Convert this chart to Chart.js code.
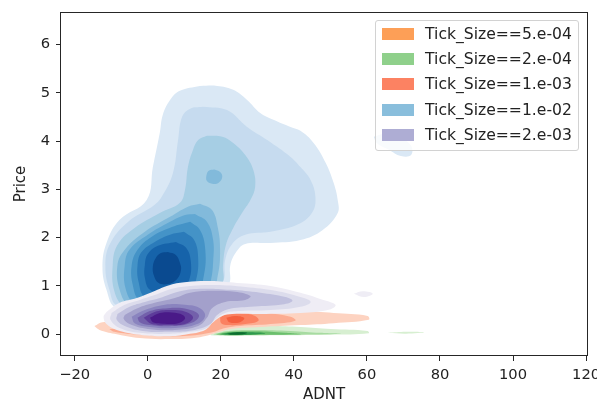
<!DOCTYPE html>
<html lang="en">
<head>
  <meta charset="UTF-8">
  <title>ADNT vs Price</title>
  <script src="https://cdn.jsdelivr.net/npm/chart.js"></script>
  <style>
    body { margin: 0; background: #fff; }
    .wrap { position: relative; width: 597px; height: 405px; font-family: "DejaVu Sans", sans-serif; color: #222; }
    .legend { position: absolute; left: 375px; top: 20px; width: 202px; height: 129px;
      border: 1px solid #d2d2d2; border-radius: 3px; background: rgba(255, 255, 255, 0.8); }
    .legend .patch { position: absolute; left: 6px; width: 32px; height: 12px; }
    .legend .label { position: absolute; left: 49px; font-size: 15.6px; line-height: 16px; white-space: nowrap; }
  </style>
</head>
<body>
  <div class="wrap">
    <canvas id="kdeChart" width="597" height="405"></canvas>
    <div class="legend" id="legend"></div>
  </div>

  <script>
    // axis ticks
    const xTicks = [-20, 0, 20, 40, 60, 80, 100, 120];
    const yTicks = [0, 1, 2, 3, 4, 5, 6];

    const tickSizes = ['Tick_Size==5.e-04', 'Tick_Size==2.e-04', 'Tick_Size==1.e-03', 'Tick_Size==1.e-02', 'Tick_Size==2.e-03'];
    const legendColors = ['#fd9f57', '#8fd08b', '#fc8262', '#89bedc', '#aeadd4'];

    // density contour rings, [ADNT, Price] per vertex, outermost level first

    // Tick_Size==2.e-04
    const greenRings = [
      [[17.1,0.00],[20.4,0.09],[23.9,0.16],[33.6,0.17],[41.8,0.15],[50.1,0.11],[60.2,0.07],[60.5,0.02],[50.1,-0.01],[36.3,-0.02],[22.6,-0.02],[17.3,-0.02]],
      [[65.7,0.03],[70.7,0.05],[75.7,0.04],[70.7,0.01]],
      [[17.9,0.00],[22.0,0.07],[29.4,0.09],[39.1,0.07],[47.3,0.03],[52.8,0.01],[41.8,-0.01],[28.1,-0.02],[19.8,-0.02]],
      [[18.7,0.00],[22.6,0.05],[29.4,0.06],[37.7,0.03],[41.8,0.00],[30.8,-0.01],[21.2,-0.02]],
      [[19.8,0.00],[23.4,0.04],[28.1,0.04],[32.2,0.02],[28.1,-0.01],[22.0,-0.01]],
      [[21.7,0.01],[24.5,0.04],[27.2,0.03],[26.1,0.00],[22.6,-0.01]]
    ];
    const greenLevels = [0, 0, 1, 2, 3, 4];

    // Tick_Size==1.e-03
    const redRings = [
      [[-14.6,0.17],[-12.4,0.25],[0.6,0.30],[17.6,0.34],[19.8,0.46],[23.9,0.50],[33.6,0.50],[41.8,0.48],[50.9,0.44],[60.2,0.38],[60.5,0.30],[50.9,0.23],[41.8,0.19],[30.8,0.15],[22.6,0.11],[19.8,0.05],[14.3,-0.06],[6.1,-0.10],[-2.2,-0.08],[-9.1,0.01],[-13.2,0.09]],
      [[-10.5,0.11],[0.6,0.15],[14.3,0.15],[17.9,0.25],[19.8,0.42],[23.9,0.46],[32.2,0.44],[39.1,0.36],[40.4,0.28],[33.6,0.21],[25.3,0.17],[21.2,0.13],[17.1,0.03],[8.8,-0.04],[-2.2,-0.01],[-9.1,0.05]],
      [[19.8,0.34],[21.5,0.43],[25.3,0.44],[29.4,0.38],[30.3,0.28],[26.7,0.21],[22.0,0.19],[20.1,0.23]],
      [[21.5,0.34],[23.7,0.38],[26.4,0.34],[25.3,0.25],[22.3,0.25]]
    ];
    const redLevels = [0, 1, 2, 3];

    // Tick_Size==1.e-02
    const blueRings = [
      [[14.3,5.14],[19.0,5.14],[23.4,5.06],[27.2,4.85],[30.8,4.58],[34.4,4.44],[39.1,4.29],[41.8,4.21],[45.4,3.96],[48.7,3.55],[50.9,3.13],[52.0,2.78],[52.0,2.51],[47.9,2.16],[41.8,1.95],[33.6,1.89],[26.7,1.87],[24.2,1.70],[22.6,1.43],[22.0,1.02],[14.3,0.70],[3.3,0.62],[-8.6,0.55],[-11.3,0.92],[-12.4,1.39],[-11.3,1.89],[-7.7,2.37],[-0.3,2.78],[1.4,3.46],[3.3,4.17],[4.1,4.54],[6.1,4.85],[8.8,5.04]],
      [[61.9,4.09],[65.2,4.15],[69.3,4.06],[72.1,3.90],[72.1,3.71],[69.3,3.69],[66.0,3.82],[62.7,3.96]],
      [[15.1,4.71],[21.7,4.64],[27.2,4.29],[32.7,4.02],[39.1,3.67],[41.8,3.46],[44.6,3.19],[45.9,2.84],[45.1,2.53],[41.3,2.28],[33.6,2.12],[26.7,2.06],[23.1,1.87],[21.2,1.54],[20.4,1.06],[14.3,0.80],[3.3,0.70],[-8.3,0.60],[-10.5,0.92],[-11.6,1.39],[-10.5,1.85],[-5.5,2.32],[1.9,2.68],[4.1,2.88],[6.9,3.34],[8.3,4.02],[9.4,4.50],[11.6,4.67]],
      [[16.2,4.11],[20.4,4.09],[23.4,3.96],[26.7,3.71],[28.9,3.40],[29.4,3.05],[28.1,2.78],[25.8,2.51],[23.4,2.20],[21.4,1.85],[20.6,1.43],[20.4,1.06],[15.7,0.77],[4.7,0.61],[-6.3,0.59],[-9.1,0.88],[-9.6,1.43],[-8.3,1.85],[-3.6,2.20],[3.3,2.51],[8.8,2.72],[10.2,2.99],[11.0,3.46],[12.4,3.82],[13.8,4.02]],
      [[14.3,2.70],[17.6,2.57],[19.2,2.20],[19.8,1.75],[19.2,1.23],[17.1,0.81],[4.7,0.61],[-5.0,0.61],[-7.7,0.92],[-8.3,1.43],[-6.3,1.75],[-0.8,2.12],[6.1,2.43],[11.0,2.64]],
      [[18.2,3.41],[19.8,3.36],[20.4,3.26],[19.5,3.14],[17.9,3.11],[16.2,3.17],[16.1,3.30],[16.8,3.39]],
      [[12.9,2.49],[16.2,2.33],[17.9,1.95],[17.9,1.50],[17.3,1.12],[15.7,0.79],[4.7,0.61],[-3.6,0.65],[-6.1,0.96],[-6.3,1.43],[-5.0,1.75],[0.0,2.06],[6.1,2.33],[10.2,2.47]],
      [[11.6,2.33],[14.3,2.16],[15.7,1.79],[15.4,1.23],[12.9,0.75],[4.7,0.65],[-2.2,0.71],[-4.1,1.02],[-4.4,1.43],[-2.8,1.75],[1.1,2.02],[6.6,2.22]],
      [[9.9,2.12],[12.7,1.95],[13.8,1.58],[13.2,1.12],[11.0,0.79],[4.7,0.71],[-0.8,0.77],[-2.5,1.08],[-2.8,1.43],[-1.7,1.70],[1.9,1.91],[6.1,2.06]],
      [[7.7,1.91],[10.5,1.79],[11.8,1.50],[11.3,1.12],[8.8,0.88],[4.7,0.84],[0.6,0.92],[-0.8,1.17],[-0.8,1.43],[0.0,1.66],[2.8,1.83]],
      [[5.5,1.70],[7.7,1.64],[8.8,1.48],[9.1,1.33],[8.0,1.14],[5.5,1.04],[3.0,1.06],[1.7,1.21],[1.4,1.41],[2.2,1.58],[3.6,1.68]]
    ];
    const blueLevels = [0, 0, 1, 2, 3, 3, 4, 5, 6, 7, 8];

    // Tick_Size==2.e-03
    const purpleRings = [
      [[-11.3,0.46],[-7.7,0.65],[-3.0,0.75],[1.4,0.88],[6.1,1.02],[10.7,1.08],[17.1,1.10],[24.5,1.06],[33.6,1.00],[41.8,0.86],[48.1,0.71],[51.4,0.61],[50.1,0.52],[41.8,0.44],[30.8,0.42],[23.1,0.42],[20.4,0.38],[17.9,0.25],[15.7,0.09],[11.6,0.01],[6.1,-0.04],[-2.2,-0.01],[-8.5,0.09],[-11.3,0.21],[-12.1,0.36]],
      [[56.4,0.84],[58.9,0.89],[61.6,0.84],[59.2,0.77]],
      [[-9.9,0.44],[-6.3,0.61],[-2.2,0.71],[1.9,0.81],[6.6,0.94],[11.6,1.00],[18.4,1.02],[26.7,0.98],[34.9,0.90],[41.8,0.77],[44.6,0.67],[41.8,0.57],[33.6,0.50],[25.3,0.48],[21.2,0.44],[18.4,0.30],[16.2,0.13],[11.6,0.05],[6.1,0.01],[-2.2,0.03],[-7.7,0.13],[-10.2,0.30]],
      [[-8.3,0.42],[-5.0,0.57],[-0.8,0.67],[3.3,0.75],[8.3,0.88],[14.3,0.94],[22.6,0.92],[30.8,0.86],[37.7,0.77],[39.6,0.69],[36.3,0.61],[28.1,0.57],[22.0,0.52],[19.0,0.40],[17.1,0.21],[12.9,0.09],[6.1,0.05],[-1.4,0.07],[-6.3,0.17],[-8.5,0.30]],
      [[-6.3,0.40],[-2.8,0.54],[1.9,0.65],[7.4,0.75],[11.6,0.86],[17.1,0.90],[23.9,0.88],[28.1,0.79],[26.7,0.71],[21.2,0.67],[17.6,0.54],[16.2,0.34],[13.8,0.17],[7.4,0.09],[0.0,0.11],[-5.0,0.21],[-6.6,0.32]],
      [[-4.4,0.36],[-0.8,0.50],[4.7,0.61],[10.2,0.61],[14.3,0.54],[15.7,0.38],[13.5,0.21],[7.4,0.13],[0.6,0.15],[-3.6,0.23]],
      [[-2.8,0.34],[0.6,0.48],[5.5,0.54],[11.0,0.52],[14.0,0.40],[12.4,0.25],[6.6,0.17],[0.6,0.19],[-2.2,0.25]],
      [[-1.1,0.34],[1.9,0.46],[6.1,0.50],[10.5,0.46],[12.4,0.34],[10.2,0.21],[5.5,0.19],[1.1,0.21]],
      [[0.6,0.34],[3.3,0.44],[6.6,0.45],[9.6,0.40],[10.2,0.32],[8.3,0.23],[4.1,0.22],[1.4,0.25]]
    ];
    const purpleLevels = [0, 0, 1, 2, 3, 4, 5, 6, 7];

    // fill shades per level
    const greenShades = ['#d7efd1', '#a7dba1', '#6bbf6d', '#2f994e', '#0d6d2f'];
    const redShades = ['#fdd3c1', '#fcac91', '#fb8161', '#f4603f'];
    const blueShades = ['#dae8f5', '#c6dbef', '#a6cee4', '#82badb', '#62a8d3', '#4493c7', '#2b7bba', '#1663aa', '#0a4a90'];
    const purpleShades = ['#efedf5', '#dcdcec', '#c0c0de', '#a3a0cb', '#8a84bf', '#7360ab', '#5d3b9a', '#4a1a88'];

    Chart.defaults.font.family = '"DejaVu Sans", sans-serif';
    Chart.defaults.color = '#222';

    function ringDataset(points, color) {
      const pts = points.map(([x, y]) => ({ x, y }));
      pts.push(pts[0]);
      return {
        data: pts,
        fill: 'shape',
        backgroundColor: color,
        borderColor: 'transparent',
        borderWidth: 0,
        pointRadius: 0,
        pointHoverRadius: 0,
        tension: 0.4
      };
    }

    // groups listed bottom to top
    const groups = [
      [greenRings, greenLevels, greenShades],
      [redRings, redLevels, redShades],
      [blueRings, blueLevels, blueShades],
      [purpleRings, purpleLevels, purpleShades]
    ];

    const datasets = [];
    groups.forEach(([rings, levels, shades]) => {
      rings.forEach((r, i) => datasets.push(ringDataset(r, shades[levels[i]])));
    });
    // lower order is painted later, so the first pushed ring sits underneath
    datasets.forEach((d, i) => { d.order = datasets.length - i; });

    const frame = {
      id: 'frame',
      afterDraw(chart) {
        const { ctx, chartArea: a } = chart;
        ctx.save();
        ctx.strokeStyle = '#262626';
        ctx.lineWidth = 1;
        ctx.strokeRect(a.left - 0.5, a.top + 0.5, a.right - a.left + 1, a.bottom - a.top - 1);
        ctx.restore();
      }
    };

    const tickFont = { size: 14.7 };
    const minus = v => (v < 0 ? '\u2212' + Math.abs(v) : String(v));

    new Chart(document.querySelector('#kdeChart'), {
      type: 'line',
      data: { datasets },
      plugins: [frame],
      options: {
        responsive: false,
        animation: false,
        devicePixelRatio: 1,
        events: [],
        layout: { padding: { left: 0, top: 12, right: 10, bottom: 0 } },
        plugins: { legend: { display: false }, tooltip: { enabled: false } },
        scales: {
          x: {
            type: 'linear',
            min: -23.75,
            max: 120.25,
            afterBuildTicks: axis => { axis.ticks = xTicks.map(v => ({ value: v })); },
            afterFit: axis => { axis.height = 49; axis.paddingLeft = 0; axis.paddingRight = 0; },
            ticks: { font: tickFont, padding: 5, maxRotation: 0, autoSkip: false, callback: minus },
            grid: { drawOnChartArea: false, drawTicks: true, tickLength: 5, color: '#262626' },
            border: { display: false },
            title: { display: true, text: 'ADNT', font: { size: 15 }, padding: { top: 0, bottom: 1 } }
          },
          y: {
            type: 'linear',
            min: -0.45,
            max: 6.67,
            afterBuildTicks: axis => { axis.ticks = yTicks.map(v => ({ value: v })); },
            afterFit: axis => { axis.width = 61; axis.paddingTop = 0; axis.paddingBottom = 0; },
            ticks: { font: tickFont, padding: 6, autoSkip: false },
            grid: { drawOnChartArea: false, drawTicks: true, tickLength: 5, color: '#262626' },
            border: { display: false },
            title: { display: true, text: 'Price', font: { size: 15 }, padding: { top: 12, bottom: 0 } }
          }
        }
      }
    });

    // legend inside the axes, upper right
    const legend = document.querySelector('#legend');
    legend.innerHTML = tickSizes.map((label, i) => `
      <div class="patch" style="top:${7 + i * 25.2}px; background:${legendColors[i]}"></div>
      <div class="label" style="top:${5 + i * 25.2}px">${label}</div>
    `).join('');
  </script>
</body>
</html>
